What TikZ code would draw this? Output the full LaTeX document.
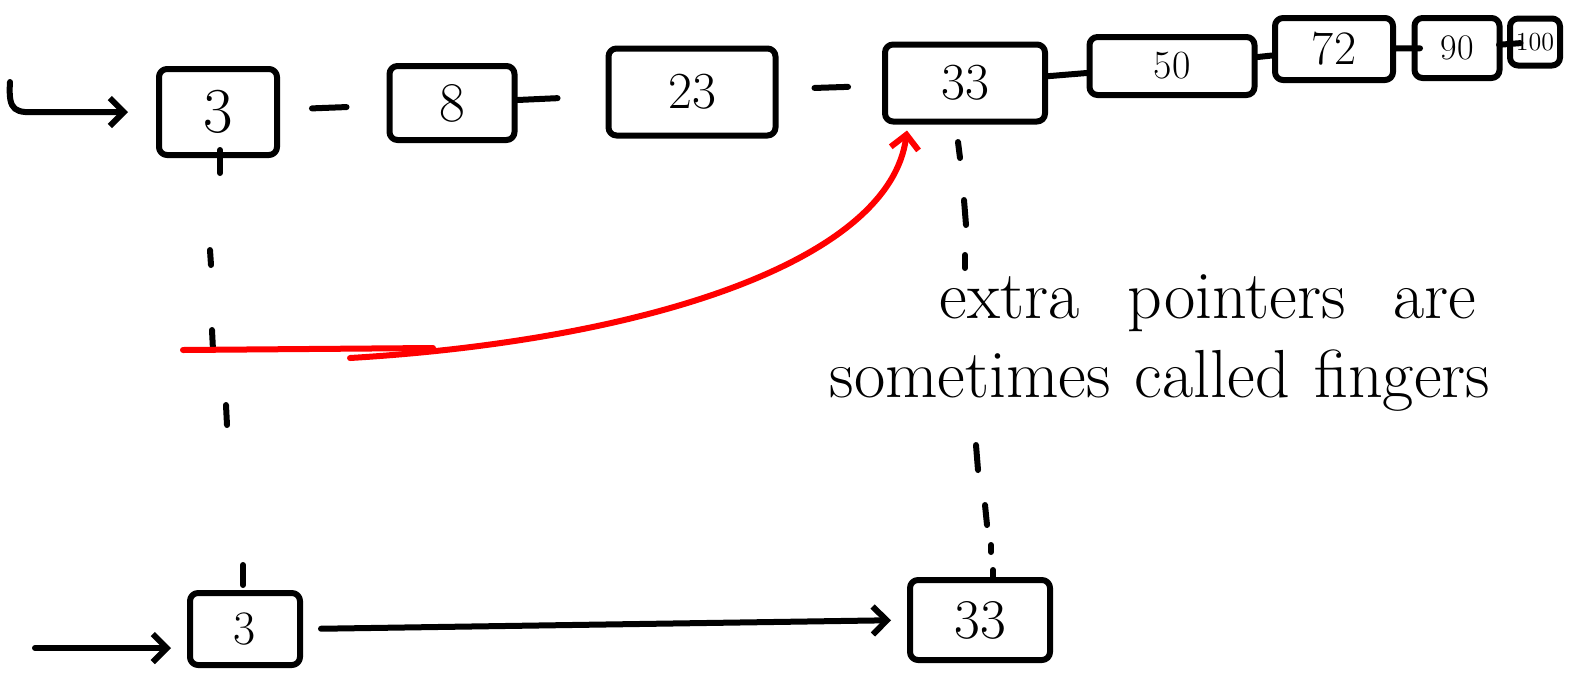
\documentclass[tikz,border=0pt]{standalone}
\usetikzlibrary{arrows.meta,calc}
\begin{document}
\begin{tikzpicture}[x=0.5pt,y=-0.5pt, line width=3pt, line cap=round, line join=round,
  box/.style 2 args={draw, rectangle, rounded corners=4pt, inner sep=0pt,
     minimum width=#1*0.5pt, minimum height=#2*0.5pt},
  fs/.style={font=\fontsize{#1}{#1}\selectfont},
  arr/.style={-{Straight Barb[length=7pt,width=14pt]}},
  link/.style={draw},
  tick/.style={draw},
  note/.style={anchor=base west, font=\fontsize{34}{38}\selectfont}]
\useasboundingbox (0,0) rectangle (1572,681);

% top row
\node[box={118}{86}, fs=32] (t3) at (218,112) {3};
\node[box={125}{74}, fs=28] (t8) at (452,103) {8};
\node[box={167}{87}, fs=26] (t23) at (692,92) {23};
\node[box={160}{77}, fs=26] (t33) at (965,83) {33};
\node[box={165}{58}, fs=20] (t50) at (1172,66) {50};
\node[box={118}{62}, fs=24] (t72) at (1334,49) {72};
\node[box={85}{60}, fs=18] (t90) at (1457,48) {90};
\node[box={50}{47}, fs=13] (t100) at (1535,42) {100};

% bottom row
\node[box={110}{72}, fs=24] (b3) at (245,629) {3};
\node[box={140}{80}, fs=28] (b33) at (980,620) {33};

% top links
\draw[link, shorten <=16pt, shorten >=20pt] (t3) -- (t8);
\draw[link, shorten >=24pt] (t8) -- (t23);
\draw[link, shorten <=18pt, shorten >=17pt] (t23) -- (t33);
\draw[link] (t33) -- (t50);
\draw[link] (t50) -- (t72);
\draw[link, shorten <=-12pt, shorten >=9pt] (t72) -- (t90);
\draw[link, shorten <=-9pt, shorten >=4pt] (t90) -- (t100);

% entry arrows
\coordinate (in1) at (10,82);
\draw[arr] (in1) .. controls (8,112) and (15,113) .. (40,112) -- ([xshift=-14pt]t3.west);
\coordinate (in2) at (35,648);
\draw[arr, shorten >=8pt] (in2) -- (in2 -| b3.west);
\draw[arr, shorten <=9pt, shorten >=8pt] (b3.east) -- (b33.west);

% dashed level links
\draw[tick] (220,150) -- (220,173);
\draw[tick] (210,250) -- (211,265);
\draw[tick] (212,330) -- (213,350);
\draw[tick] (226,405) -- (227,425);
\draw[tick] (243,565) -- (243,585);

\draw[tick] (958,142) -- (960,158);
\draw[tick] (964,200) -- (966,225);
\draw[tick] (965,255) -- (965,268);
\draw[tick] (976,445) -- (978,470);
\draw[tick] (985,505) -- (987,525);
\draw[tick] (991,545) -- (991,552);
\draw[tick] (993,570) -- (993,578);

% red finger pointer
\coordinate (r1) at (183,350);
\coordinate (r2) at (433,348);
\coordinate (r3) at (350,358);
\draw[red] (r1) -- (r2);
\draw[red, arr] (r3) .. controls (650,340) and (890,260) .. ([xshift=12.5pt,yshift=-3pt]t33.south west);

% note
\node[note] (n1) at (930,318) {extra\hspace{24pt}pointers\hspace{24pt}are};
\node[note] (n2) at (820,397) {sometimes\hspace{12pt}called\hspace{12pt}fingers};
\end{tikzpicture}
\end{document}
